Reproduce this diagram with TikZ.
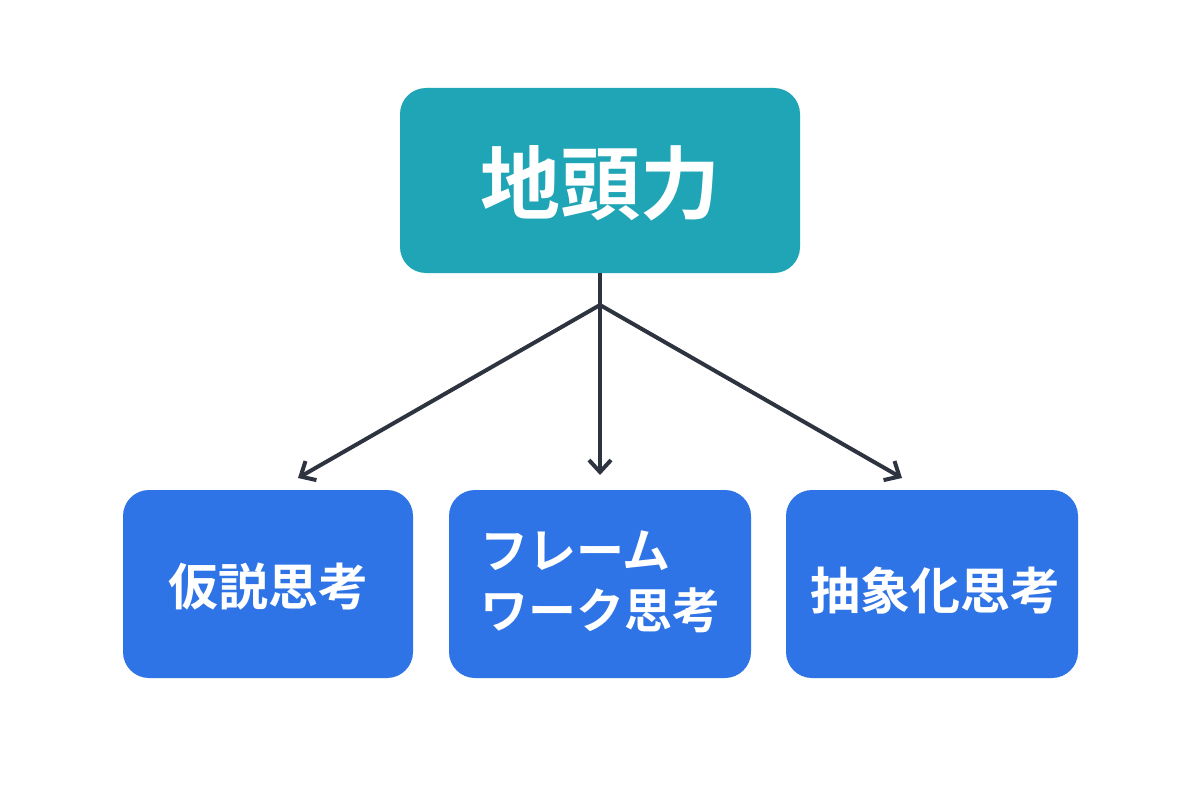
\documentclass[tikz,border=0pt]{standalone}
\usepackage{fontspec}
\newfontfamily\jp{Noto Sans CJK JP Bold}
\usetikzlibrary{arrows.meta}
\definecolor{teal1}{HTML}{1FA5B5}
\definecolor{blue1}{HTML}{2F74E6}
\definecolor{arr}{HTML}{2D3440}
\begin{document}
\begin{tikzpicture}[x=1pt,y=-1pt,
  box/.style={rounded corners=26pt,text=white,font=\jp},
  con/.style={draw=arr,line width=4pt,-{Straight Barb[length=12pt,width=22pt,line width=4pt]}}]
\useasboundingbox[fill=white] (0,0) rectangle (1200,800);
\fill[teal1,rounded corners=26pt] (400,88) rectangle (800,273);
\node[text=white,font=\jp\fontsize{80}{90}\selectfont] (top) at (600,183) {地頭力};
\coordinate (tb) at (600,273);
\coordinate (br) at (600,305);
\fill[blue1,rounded corners=26pt] (123,490) rectangle (413,678);
\fill[blue1,rounded corners=26pt] (449,490) rectangle (751,678);
\fill[blue1,rounded corners=26pt] (786,490) rectangle (1078,678);
\node[text=white,font=\jp\fontsize{50}{58}\selectfont] (a) at (268,587) {仮説思考};
\node[text=white,font=\jp\fontsize{48}{60}\selectfont,align=left] (b) at (600,582) {フレーム\\ワーク思考};
\node[text=white,font=\jp\fontsize{50}{58}\selectfont] (c) at (935,590) {抽象化思考};
\coordinate (ea) at (298,478);
\coordinate (eb) at (600,475);
\coordinate (ec) at (902,478);
\draw[con] (tb) -- (eb);
\draw[con] (br) -- (ea);
\draw[con] (br) -- (ec);
\end{tikzpicture}
\end{document}
